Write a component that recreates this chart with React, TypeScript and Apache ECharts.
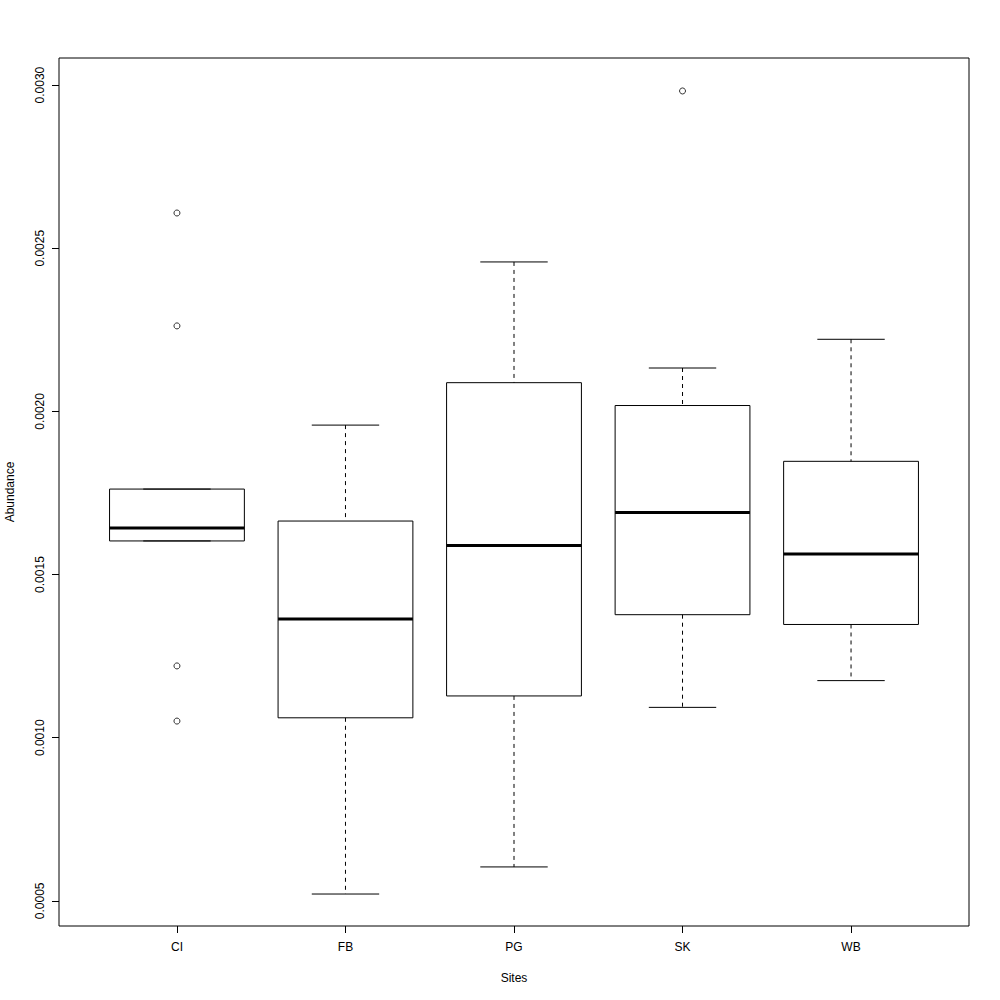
import React, { useEffect, useRef } from "react";
import * as echarts from "echarts";

const categories = ["CI", "FB", "PG", "SK", "WB"];
const lowWhisker = [0.001603, 0.000521, 0.000604, 0.001093, 0.001175];
const q1 = [0.001603, 0.001061, 0.001128, 0.001377, 0.001347];
const median = [0.001643, 0.001364, 0.001589, 0.00169, 0.001563];
const q3 = [0.001762, 0.001664, 0.002088, 0.002018, 0.001847];
const highWhisker = [0.001762, 0.001958, 0.002458, 0.002133, 0.002221];
const outlierSite = ["CI", "CI", "CI", "CI", "SK"];
const outlierValue = [0.002608, 0.002262, 0.00122, 0.001051, 0.002982];
const yTicks = [0.0005, 0.001, 0.0015, 0.002, 0.0025, 0.003];
const xTicks = [1, 2, 3, 4, 5];

const FONT = "Liberation Sans, Arial, Helvetica, sans-serif";

export default function App() {
  const ref = useRef<HTMLDivElement>(null);
  useEffect(() => {
    if (!ref.current) return;
    const chart = echarts.init(ref.current, undefined, { renderer: "svg" });
    const boxData = categories.map((_, i) => [
      i + 1,
      lowWhisker[i],
      q1[i],
      median[i],
      q3[i],
      highWhisker[i],
    ]);
    const outData = outlierSite.map((s, i) => [categories.indexOf(s) + 1, outlierValue[i]]);
    const stroke = "#000";
    const option: any = {
      animation: false,
      backgroundColor: "#fff",
      grid: {
        left: 59,
        right: 31,
        top: 58,
        bottom: 74,
        containLabel: false,
        outerBoundsMode: "none",
        show: true,
        borderColor: "#000",
        borderWidth: 1,
        backgroundColor: "transparent",
      },
      xAxis: {
        type: "value",
        min: 0.3,
        max: 5.7,
        name: "Sites",
        nameLocation: "middle",
        nameGap: 46,
        nameTextStyle: { fontFamily: FONT, fontSize: 12, color: "#000" },
        axisLine: { show: false },
        splitLine: { show: false },
        axisTick: {
          show: true,
          customValues: xTicks,
          length: 7,
          lineStyle: { color: "#000", width: 1 },
        },
        axisLabel: {
          customValues: xTicks,
          formatter: (v: number) => categories[Math.round(v) - 1] ?? "",
          margin: 15,
          fontFamily: FONT,
          fontSize: 12,
          color: "#000",
        },
      },
      yAxis: {
        type: "value",
        min: 0.000423,
        max: 0.003083,
        name: "Abundance",
        nameLocation: "middle",
        nameGap: 43,
        nameRotate: 90,
        nameTextStyle: { fontFamily: FONT, fontSize: 12, color: "#000" },
        axisLine: { show: false },
        splitLine: { show: false },
        axisTick: {
          show: true,
          customValues: yTicks,
          length: 7,
          lineStyle: { color: "#000", width: 1 },
        },
        axisLabel: {
          customValues: yTicks,
          rotate: 90,
          formatter: (v: number) => v.toFixed(4),
          margin: 13,
          fontFamily: FONT,
          fontSize: 12,
          color: "#000",
        },
      },
      series: [
        {
          type: "custom",
          data: boxData,
          encode: { x: 0, y: [1, 2, 3, 4, 5] },
          renderItem: (params: any, api: any) => {
            const x = api.value(0);
            const cx = api.coord([x, 0])[0];
            const yLow = api.coord([x, api.value(1)])[1];
            const yQ1 = api.coord([x, api.value(2)])[1];
            const yMed = api.coord([x, api.value(3)])[1];
            const yQ3 = api.coord([x, api.value(4)])[1];
            const yHigh = api.coord([x, api.value(5)])[1];
            const left = api.coord([x - 0.4, 0])[0];
            const right = api.coord([x + 0.4, 0])[0];
            const capL = api.coord([x - 0.2, 0])[0];
            const capR = api.coord([x + 0.2, 0])[0];
            const dashed = { stroke, lineWidth: 1, lineDash: [4, 4] };
            const solid = { stroke, lineWidth: 1 };
            return {
              type: "group",
              children: [
                { type: "line", shape: { x1: cx, y1: yHigh, x2: cx, y2: yQ3 }, style: dashed },
                { type: "line", shape: { x1: cx, y1: yQ1, x2: cx, y2: yLow }, style: dashed },
                { type: "line", shape: { x1: capL, y1: yHigh, x2: capR, y2: yHigh }, style: solid },
                { type: "line", shape: { x1: capL, y1: yLow, x2: capR, y2: yLow }, style: solid },
                {
                  type: "rect",
                  shape: { x: left, y: yQ3, width: right - left, height: yQ1 - yQ3 },
                  style: { fill: "transparent", stroke, lineWidth: 1 },
                },
                { type: "line", shape: { x1: left, y1: yMed, x2: right, y2: yMed }, style: { stroke, lineWidth: 3 } },
              ],
            };
          },
        },
        {
          type: "scatter",
          data: outData,
          symbol: "circle",
          symbolSize: 6,
          itemStyle: { color: "transparent", borderColor: "#000", borderWidth: 1 },
        },
      ],
    };
    chart.setOption(option);
    return () => chart.dispose();
  }, []);
  return (
    <div
      ref={ref}
      style={{ position: "absolute", left: 0, top: 0, width: 1000, height: 1000 }}
    />
  );
}
